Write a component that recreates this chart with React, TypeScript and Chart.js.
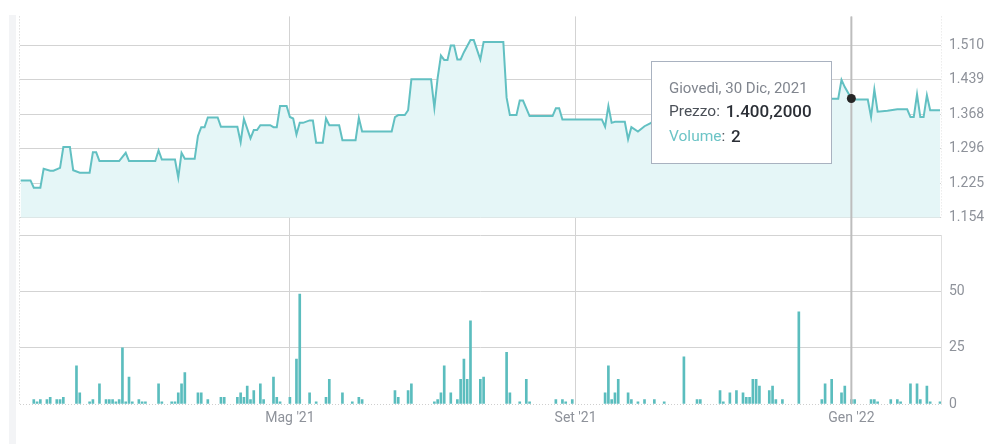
import React, { useEffect, useRef } from "react";
import { Chart, registerables } from "chart.js";

Chart.register(...registerables);

// Trading-day index of each price vertex, and its price (EUR)
const priceIdx = [
  0, 3, 4, 6, 7, 9, 10, 12, 13, 15, 16, 18, 21, 22, 23, 24, 30, 32, 33, 41,
  42, 43, 47, 48, 49, 50, 53, 54, 55, 56, 57, 60, 61, 66, 67, 68, 70, 71, 72, 73,
  76, 77, 78, 79, 81, 82, 83, 84, 85, 86, 88, 89, 90, 92, 93, 94, 97, 98, 102, 103,
  104, 113, 114, 115, 117, 118, 119, 125, 126, 127, 128, 129, 130, 131, 132, 133, 134, 135, 137, 138,
  140, 141, 147, 148, 149, 151, 152, 153, 155, 162, 163, 164, 165, 177, 178, 179, 180, 181, 184, 185,
  186, 188, 190, 192, 195, 198, 200, 212, 214, 216, 230, 232, 234, 247, 249, 250, 251, 253, 254, 258,
  259, 260, 261, 264, 267, 270, 271, 272, 273, 274, 275, 276, 277, 280,
];
const priceVal = [
  1231, 1231, 1216, 1216, 1255, 1251, 1251, 1257, 1300, 1300, 1252, 1247, 1247, 1289, 1289, 1271, 1271, 1288, 1271, 1271,
  1293, 1274, 1274, 1237, 1288, 1276, 1276, 1323, 1341, 1341, 1361, 1361, 1342, 1342, 1310, 1358, 1318, 1335, 1335, 1345,
  1345, 1341, 1341, 1385, 1385, 1362, 1359, 1326, 1350, 1350, 1355, 1355, 1309, 1309, 1359, 1345, 1345, 1314, 1314, 1360,
  1332, 1332, 1362, 1366, 1366, 1376, 1440, 1440, 1381, 1443, 1489, 1480, 1480, 1510, 1510, 1481, 1481, 1496, 1521, 1521,
  1481, 1517, 1517, 1402, 1366, 1366, 1396, 1396, 1364, 1364, 1380, 1380, 1357, 1357, 1342, 1385, 1350, 1352, 1352, 1316,
  1341, 1332, 1343, 1350, 1372, 1372, 1392, 1392, 1384, 1398, 1398, 1390, 1400, 1400, 1400, 1439, 1424, 1400.2, 1398, 1398,
  1362, 1419, 1373, 1375, 1378, 1378, 1362, 1362, 1409, 1362, 1362, 1407, 1376, 1376,
];

// Trading-day index of each traded day, and its volume
const volIdx = [
  4, 5, 6, 8, 9, 11, 12, 13, 17, 18, 21, 22, 24, 26, 27, 28, 29, 30, 31, 32,
  33, 34, 36, 37, 38, 42, 43, 46, 47, 48, 49, 50, 54, 55, 57, 61, 62, 66, 67, 68,
  69, 70, 71, 73, 74, 77, 78, 79, 82, 84, 85, 88, 90, 93, 94, 98, 101, 103, 104, 114,
  115, 118, 119, 126, 127, 128, 129, 131, 133, 134, 135, 136, 137, 140, 141, 148, 149, 152, 154, 155,
  163, 165, 166, 168, 178, 179, 180, 181, 182, 185, 186, 188, 190, 193, 196, 202, 206, 207, 213, 214,
  216, 218, 220, 221, 222, 223, 224, 225, 228, 229, 230, 232, 237, 244, 245, 247, 250, 251, 253, 254,
  259, 260, 261, 265, 267, 268, 271, 273, 274, 276, 277, 280,
];
const volVal = [
  2, 1, 2, 2, 3, 2, 2, 3, 17, 5, 1, 2, 9, 2, 2, 2, 1, 2, 25, 1,
  12, 1, 2, 1, 1, 9, 1, 1, 1, 5, 9, 14, 5, 5, 2, 3, 3, 3, 5, 3,
  8, 2, 6, 9, 2, 12, 3, 1, 3, 20, 49, 5, 1, 3, 11, 5, 1, 3, 2, 6,
  3, 6, 9, 1, 2, 5, 17, 5, 2, 11, 20, 11, 37, 11, 12, 23, 5, 1, 11, 1,
  2, 2, 1, 2, 5, 17, 2, 5, 11, 5, 2, 1, 2, 2, 1, 21, 2, 2, 6, 1,
  5, 6, 5, 3, 3, 11, 11, 8, 6, 8, 2, 2, 41, 2, 9, 11, 5, 8, 2, 2,
  2, 2, 1, 2, 2, 1, 9, 9, 2, 8, 1, 1,
];

const priceTicks = [1154, 1225.2, 1296.4, 1367.6, 1438.8, 1510];
const volTicks = [0, 25, 50, 75];
const volTickLabels = ["0", "25", "50", ""];
const xTickPos = [82, 169, 253];
const xTickLabels = ["Mag '21", "Set '21", "Gen '22"];

const hoverIndex = 253;
const hoverTitle = "Giovedì, 30 Dic, 2021";

const fmtIt = (v: number, d: number) => {
  const [i, f] = v.toFixed(d).split(".");
  const ig = i.replace(/\B(?=(\d{3})+(?!\d))/g, ".");
  return f ? ig + "," + f : ig;
};

const TEAL = "#62c0c2";
const GRID = "#d3d3d3";
const TICK = "#8e929a";

export default function App() {
  const ref = useRef<HTMLCanvasElement>(null);

  useEffect(() => {
    const canvas = ref.current;
    if (!canvas) return;

    const overlay = {
      id: "overlay",
      beforeDatasetsDraw(chart: any) {
        const ctx = chart.ctx;
        const { left, right, top, bottom } = chart.chartArea;
        const ys = chart.scales.y;
        ctx.save();
        ctx.setLineDash([1, 2]);
        ctx.lineWidth = 1;
        ctx.strokeStyle = "#cfcfcf";
        ctx.beginPath();
        ctx.moveTo(left - 0.5, top);
        ctx.lineTo(left - 0.5, bottom);
        ctx.stroke();
        ctx.beginPath();
        ctx.moveTo(left, bottom + 0.5);
        ctx.lineTo(right, bottom + 0.5);
        ctx.stroke();
        ctx.strokeStyle = "#e2e2e2";
        ctx.beginPath();
        ctx.moveTo(right + 0.5, ys.top);
        ctx.lineTo(right + 0.5, ys.bottom);
        ctx.stroke();
        ctx.restore();
      },
      afterDatasetsDraw(chart: any) {
        const ctx = chart.ctx;
        const { top, bottom } = chart.chartArea;
        const xs = chart.scales.x;
        const ys = chart.scales.y;
        const k = priceIdx.indexOf(hoverIndex);
        const price = priceVal[k];
        const vk = volIdx.indexOf(hoverIndex);
        const vol = vk >= 0 ? volVal[vk] : 0;
        const px = xs.getPixelForValue(hoverIndex);
        const py = ys.getPixelForValue(price);
        ctx.save();
        ctx.strokeStyle = "#bdbdbd";
        ctx.lineWidth = 2;
        ctx.beginPath();
        ctx.moveTo(px, top);
        ctx.lineTo(px, bottom);
        ctx.stroke();
        ctx.fillStyle = "#262626";
        ctx.beginPath();
        ctx.arc(px, py, 4.5, 0, Math.PI * 2);
        ctx.fill();
        const bw = 180;
        const bh = 102;
        const bx = Math.round(px - 20 - bw) + 0.5;
        const by = Math.round(py - 38) + 0.5;
        ctx.fillStyle = "#ffffff";
        ctx.fillRect(bx, by, bw, bh);
        ctx.strokeStyle = "#a9b2c0";
        ctx.lineWidth = 1;
        ctx.strokeRect(bx, by, bw, bh);
        ctx.textAlign = "left";
        ctx.textBaseline = "middle";
        const tx = bx + 17.5;
        ctx.font = "15px Roboto";
        ctx.fillStyle = "#80858e";
        ctx.fillText(hoverTitle, tx, by + 28);
        ctx.font = "15.5px Roboto";
        ctx.fillStyle = "#4b5058";
        ctx.fillText("Prezzo: ", tx, by + 51);
        let w = ctx.measureText("Prezzo: ").width;
        ctx.font = "500 17px Roboto";
        ctx.fillStyle = "#2b2f36";
        ctx.fillText(fmtIt(price, 4), tx + w + 2, by + 51);
        ctx.font = "15.5px Roboto";
        ctx.fillStyle = "#6cc4c6";
        ctx.fillText("Volume", tx, by + 76);
        w = ctx.measureText("Volume").width;
        ctx.fillStyle = "#4b5058";
        ctx.fillText(": ", tx + w, by + 76);
        w += ctx.measureText(": ").width;
        ctx.font = "500 17px Roboto";
        ctx.fillStyle = "#2b2f36";
        ctx.fillText(String(vol), tx + w + 2, by + 76);
        ctx.restore();
      },
    };

    const chart = new Chart(canvas, {
      data: {
        datasets: [
          {
            type: "line",
            data: priceIdx.map((x, i) => ({ x, y: priceVal[i] })),
            yAxisID: "y",
            borderColor: TEAL,
            borderWidth: 2,
            backgroundColor: "#e5f6f7",
            fill: "start",
            pointRadius: 0,
            tension: 0,
          },
          {
            type: "bar",
            data: volIdx.map((x, i) => ({ x, y: volVal[i] })),
            yAxisID: "yv",
            backgroundColor: "#5bbdbe",
            barThickness: 2,
          },
        ],
      } as any,
      plugins: [overlay],
      options: {
        responsive: false,
        devicePixelRatio: 1,
        animation: false,
        events: [],
        layout: { padding: { left: 20, right: 0, top: 15, bottom: 0 } },
        plugins: { legend: { display: false }, tooltip: { enabled: false } },
        scales: {
          x: {
            type: "linear",
            min: -0.2,
            max: 280.3,
            offset: false,
            afterFit: (s: any) => {
              s.height = 40;
            },
            afterBuildTicks: (s: any) => {
              s.ticks = xTickPos.map((v) => ({ value: v }));
            },
            grid: { color: GRID, lineWidth: 1, drawTicks: false, offset: false },
            border: { display: false },
            ticks: {
              color: TICK,
              font: { family: "Roboto", size: 14 },
              padding: 6,
              maxRotation: 0,
              autoSkip: false,
              callback: (_v: any, i: number) => xTickLabels[i],
            },
          },
          y: {
            type: "linear",
            position: "right",
            stack: "panels",
            stackWeight: 202,
            weight: 1,
            min: 1154,
            max: 1570,
            afterFit: (s: any) => {
              s.width = 46;
            },
            afterBuildTicks: (s: any) => {
              s.ticks = priceTicks.map((v) => ({ value: v }));
            },
            grid: { color: GRID, lineWidth: 1, drawTicks: false },
            border: { display: false },
            ticks: {
              color: TICK,
              font: { family: "Roboto", size: 14 },
              padding: 8,
              callback: (v: any) => fmtIt(Number(v), 0),
            },
          },
          gap: {
            type: "linear",
            position: "right",
            stack: "panels",
            stackWeight: 18,
            weight: 2,
            display: true,
            grid: { display: false, drawTicks: false },
            border: { display: false },
            ticks: { display: false },
          },
          yv: {
            type: "linear",
            position: "right",
            stack: "panels",
            stackWeight: 169,
            weight: 3,
            min: 0,
            max: 75,
            afterFit: (s: any) => {
              s.width = 46;
            },
            afterBuildTicks: (s: any) => {
              s.ticks = volTicks.map((v) => ({ value: v }));
            },
            grid: {
              color: (c: any) => (c.tick && c.tick.value === 0 ? "rgba(0,0,0,0)" : GRID),
              lineWidth: 1,
              drawTicks: false,
            },
            border: { display: true, color: "#e0e0e0", width: 1 },
            ticks: {
              color: TICK,
              font: { family: "Roboto", size: 14 },
              padding: 8,
              callback: (_v: any, i: number) => volTickLabels[i],
            },
          },
        },
      } as any,
    });

    return () => chart.destroy();
  }, []);

  return (
    <div
      style={{
        position: "fixed",
        left: 0,
        top: 0,
        width: 987,
        height: 444,
        background: "#ffffff",
        overflow: "hidden",
      }}
    >
      <div
        style={{
          position: "absolute",
          left: 9,
          top: 15,
          width: 7,
          height: 429,
          background: "#f3f4f6",
        }}
      />
      <canvas
        ref={ref}
        width={987}
        height={444}
        style={{ position: "absolute", left: 0, top: 0, width: 987, height: 444 }}
      />
    </div>
  );
}
